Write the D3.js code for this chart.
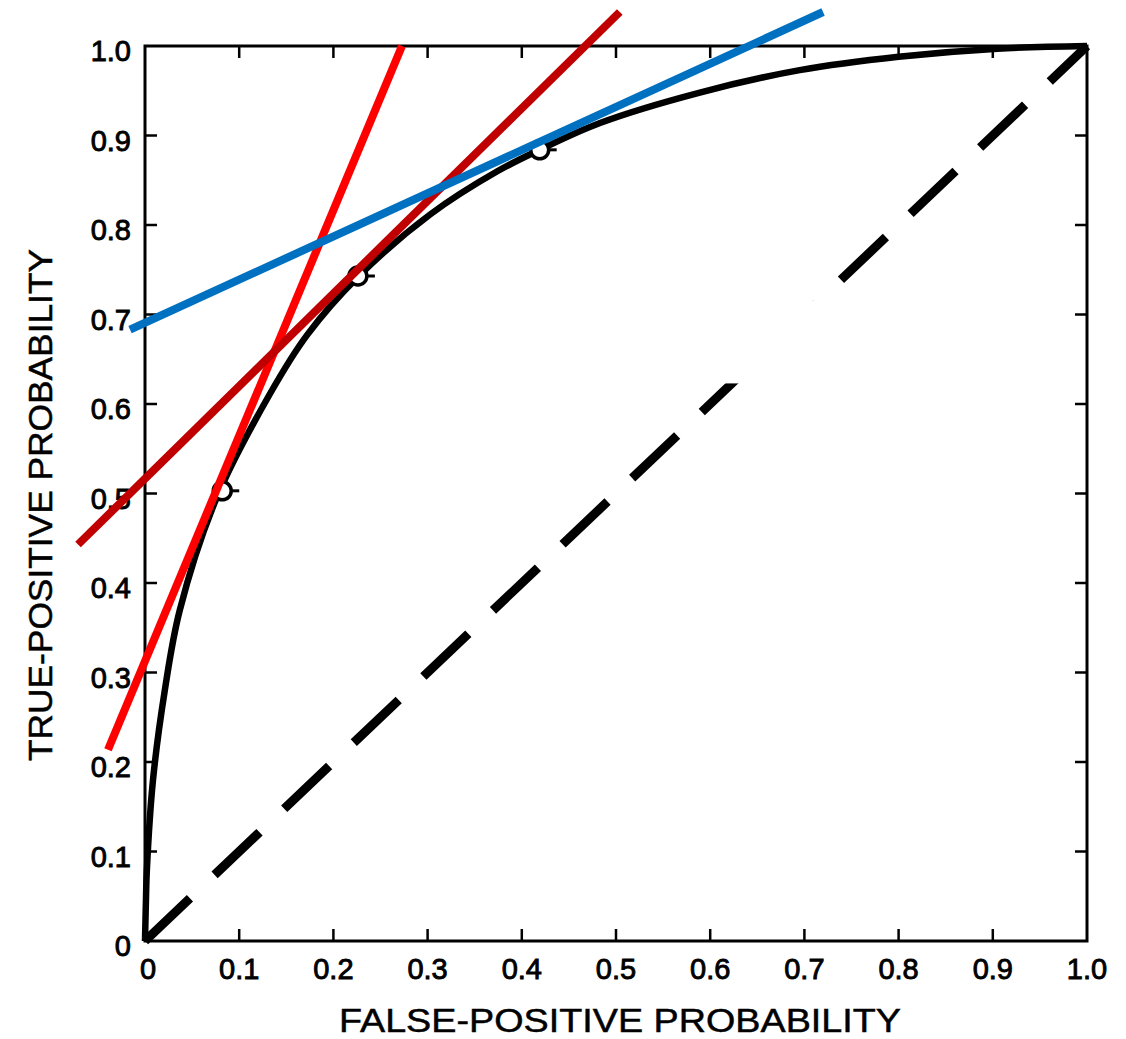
<!DOCTYPE html>
<html><head><meta charset="utf-8">
<script src="https://cdn.jsdelivr.net/npm/d3@7"></script>
<style>body{margin:0;background:#fff}svg{display:block}</style>
</head><body><svg id="c" width="1126" height="1039"></svg>
<script>
const xTicks = [0,0.1,0.2,0.3,0.4,0.5,0.6,0.7,0.8,0.9,1.0];
const yTicks = [0,0.1,0.2,0.3,0.4,0.5,0.6,0.7,0.8,0.9,1.0];
const xTickLabels = ["0","0.1","0.2","0.3","0.4","0.5","0.6","0.7","0.8","0.9","1.0"];
const yTickLabels = ["0","0.1","0.2","0.3","0.4","0.5","0.6","0.7","0.8","0.9","1.0"];
// ROC curve (false-positive, true-positive)
const rocFP = [0,0.001,0.002,0.0085,0.021,0.037,0.076,0.133,0.172,0.226,0.303,0.374,0.419,0.483,0.589,0.695,0.80,0.905,1.0];
const rocTP = [0,0.045,0.08,0.18,0.28,0.37,0.495,0.612,0.677,0.742,0.812,0.86,0.884,0.914,0.948,0.973,0.988,0.997,1.0];
// observed operating points
const pointFP = [0.082,0.226,0.419];
const pointTP = [0.503,0.743,0.884];
// chance diagonal
const chanceFP = [0,1];
const chanceTP = [0,1];
// tangent lines
const tangentNames = ["red","darkred","blue"];
const tangentX1 = [-0.0393,-0.0711,-0.0159];
const tangentY1 = [0.2136,0.443,0.683];
const tangentX2 = [0.2728,0.504,0.7198];
const tangentY2 = [1.0,1.038,1.038];
const tangentColors = ["#ff0000","#c00000","#0070c0"];
const xTitle = "FALSE-POSITIVE PROBABILITY";
const yTitle = "TRUE-POSITIVE PROBABILITY";

const svg = d3.select("#c");
const x = d3.scaleLinear().domain([0,1]).range([145,1087]);
const y = d3.scaleLinear().domain([0,1]).range([941,46]);
const font = "'Liberation Sans', Arial, Helvetica, sans-serif";

// frame
svg.append("rect").attr("x",x(0)).attr("y",y(1)).attr("width",x(1)-x(0)).attr("height",y(0)-y(1))
  .attr("fill","none").attr("stroke","#000").attr("stroke-width",3);

// inward ticks
const tl = 12;
svg.append("g").selectAll("line").data(xTicks.slice(1,-1)).join("line")
  .attr("x1",d=>x(d)).attr("x2",d=>x(d)).attr("y1",y(0)).attr("y2",y(0)-tl).attr("stroke","#000").attr("stroke-width",2.5);
svg.append("g").selectAll("line").data(xTicks.slice(1,-1)).join("line")
  .attr("x1",d=>x(d)).attr("x2",d=>x(d)).attr("y1",y(1)).attr("y2",y(1)+tl).attr("stroke","#000").attr("stroke-width",2.5);
svg.append("g").selectAll("line").data(yTicks.slice(1,-1)).join("line")
  .attr("x1",x(0)).attr("x2",x(0)+tl).attr("y1",d=>y(d)).attr("y2",d=>y(d)).attr("stroke","#000").attr("stroke-width",2.5);
svg.append("g").selectAll("line").data(yTicks.slice(1,-1)).join("line")
  .attr("x1",x(1)).attr("x2",x(1)-tl).attr("y1",d=>y(d)).attr("y2",d=>y(d)).attr("stroke","#000").attr("stroke-width",2.5);

// tick labels
svg.append("g").selectAll("text").data(xTicks).join("text")
  .attr("x",(d,i)=>x(d)+(i===0?3:0)).attr("y",y(0)+38).attr("text-anchor","middle")
  .attr("font-family",font).attr("font-size",29).attr("stroke","#000").attr("stroke-width",0.9)
  .text((d,i)=>xTickLabels[i]);
svg.append("g").selectAll("text").data(yTicks).join("text")
  .attr("x",x(0)-14).attr("y",(d,i)=>y(d)+15).attr("text-anchor","end")
  .attr("font-family",font).attr("font-size",29).attr("stroke","#000").attr("stroke-width",0.9)
  .text((d,i)=>yTickLabels[i]);

// titles
svg.append("text").attr("x",620).attr("y",1032).attr("text-anchor","middle")
  .attr("font-family",font).attr("font-size",34).attr("textLength",562).attr("lengthAdjust","spacingAndGlyphs")
  .attr("stroke","#000").attr("stroke-width",0.5).text(xTitle);
svg.append("text").attr("transform","translate(52,505) rotate(-90)").attr("text-anchor","middle")
  .attr("font-family",font).attr("font-size",34).attr("textLength",512).attr("lengthAdjust","spacingAndGlyphs")
  .attr("stroke","#000").attr("stroke-width",0.5).text(yTitle);

// chance diagonal
svg.append("line").attr("x1",x(chanceFP[0])).attr("y1",y(chanceTP[0])).attr("x2",x(chanceFP[1])).attr("y2",y(chanceTP[1]))
  .attr("stroke","#000").attr("stroke-width",9).attr("stroke-dasharray","62 34");

// ROC curve
const rocData = rocFP.map((v,i)=>[v,rocTP[i]]);
svg.append("path").datum(rocData)
  .attr("d",d3.line().x(d=>x(d[0])).y(d=>y(d[1])).curve(d3.curveCatmullRom.alpha(0.5)))
  .attr("fill","none").attr("stroke","#000").attr("stroke-width",6.5).attr("stroke-linejoin","round");

// points
const pts = pointFP.map((v,i)=>[v,pointTP[i]]);
svg.append("g").selectAll("line").data(pts).join("line")
  .attr("x1",d=>x(d[0])+8).attr("x2",d=>x(d[0])+17).attr("y1",d=>y(d[1])).attr("y2",d=>y(d[1]))
  .attr("stroke","#000").attr("stroke-width",3);
svg.append("g").selectAll("circle").data(pts).join("circle")
  .attr("cx",d=>x(d[0])).attr("cy",d=>y(d[1])).attr("r",9)
  .attr("fill","#fff").attr("stroke","#000").attr("stroke-width",3.5);

// erased patch seen in reference
svg.append("rect").attr("x",x(0.525)).attr("y",y(0.716)).attr("width",x(0.728)-x(0.525)).attr("height",y(0.623)-y(0.716)).attr("fill","#fff");

// tangent lines
svg.append("g").selectAll("line").data(tangentNames).join("line")
  .attr("x1",(d,i)=>x(tangentX1[i])).attr("y1",(d,i)=>y(tangentY1[i]))
  .attr("x2",(d,i)=>x(tangentX2[i])).attr("y2",(d,i)=>y(tangentY2[i]))
  .attr("stroke",(d,i)=>tangentColors[i]).attr("stroke-width",8);
</script></body></html>
